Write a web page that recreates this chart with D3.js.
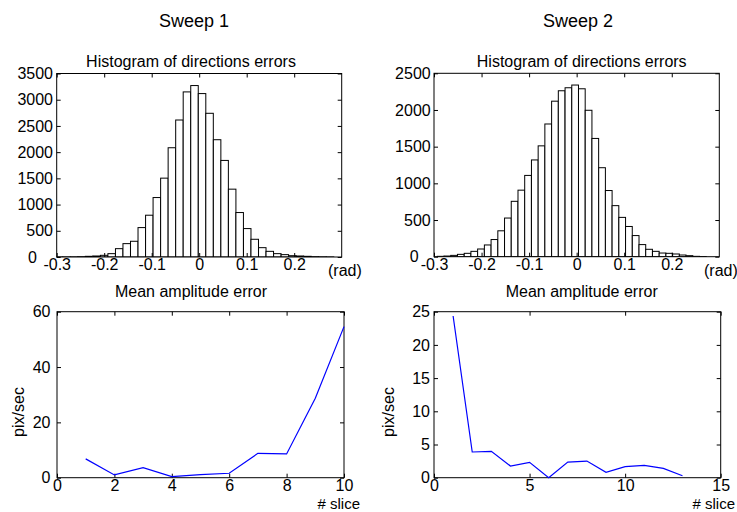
<!DOCTYPE html>
<html>
<head>
<meta charset="utf-8">
<script src="https://cdn.jsdelivr.net/npm/d3@7/dist/d3.min.js"></script>
<style>
  html, body { margin: 0; padding: 0; background: #fff; }
  text { font-family: "Liberation Sans", Arial, Helvetica, sans-serif; fill: #000; }
</style>
</head>
<body>
<svg id="chart" width="737" height="512"></svg>
<script>
// ---------- data ----------
const sweepTitles = ["Sweep 1", "Sweep 2"];
const histTitle = "Histogram of directions errors";
const lineTitle = "Mean amplitude error";

// Sweep 1 histogram (bin centres in rad, counts)
const hist1Centers = [-0.2952,-0.2794,-0.2635,-0.2477,-0.2318,-0.2160,-0.2001,-0.1843,-0.1684,-0.1526,
  -0.1367,-0.1209,-0.1050,-0.0892,-0.0733,-0.0575,-0.0416,-0.0258,-0.0099,0.0060,0.0218,0.0377,0.0535,
  0.0694,0.0852,0.1011,0.1169,0.1328,0.1486,0.1645,0.1803,0.1962,0.2120,0.2279,0.2437,0.2596,0.2754];
const hist1Counts = [1,2,3,6,13,19,32,64,159,255,300,561,797,1134,1504,2084,2613,3149,3270,3117,2741,
  2237,1842,1294,848,542,338,178,108,64,45,25,19,13,6,3,1];

// Sweep 2 histogram
const hist2Centers = [-0.2860,-0.2719,-0.2577,-0.2436,-0.2294,-0.2153,-0.2012,-0.1870,-0.1729,-0.1587,
  -0.1446,-0.1305,-0.1163,-0.1022,-0.0880,-0.0739,-0.0598,-0.0456,-0.0315,-0.0173,-0.0032,0.0109,0.0251,
  0.0392,0.0534,0.0675,0.0816,0.0958,0.1099,0.1241,0.1382,0.1523,0.1665,0.1806,0.1948,0.2089,0.2230,
  0.2372,0.2513,0.2655];
const hist2Counts = [5,9,18,32,46,73,105,160,234,353,527,755,907,1108,1319,1511,1809,2120,2262,2303,2340,
  2289,1996,1612,1213,902,696,536,412,288,165,101,73,50,46,37,23,14,5,2];

const histXTicks = [-0.3,-0.2,-0.1,0,0.1,0.2];
const hist1YTicks = [0,500,1000,1500,2000,2500,3000,3500];
const hist2YTicks = [0,500,1000,1500,2000,2500];

// Mean amplitude error per slice
const amp1Slices = [1,2,3,4,5,6,7,8,9,10];
const amp1Values = [6.8,1.0,3.6,0.4,1.1,1.6,8.8,8.6,28.7,54.6];
const amp2Slices = [1,2,3,4,5,6,7,8,9,10,11,12,13];
const amp2Values = [24.35,3.87,3.97,1.76,2.31,0.0,2.36,2.51,0.8,1.66,1.86,1.4,0.3];

const amp1XTicks = [0,2,4,6,8,10];
const amp1YTicks = [0,20,40,60];
const amp2XTicks = [0,5,10,15];
const amp2YTicks = [0,5,10,15,20,25];

// ---------- drawing ----------
const svg = d3.select("#chart");
svg.append("rect").attr("width",737).attr("height",512).attr("fill","#fff");

const FS = 16, TICK = 4;

function frame(g, x, y, xTicks, yTicks, opts) {
  const [x0,x1] = x.range(), [y1,y0] = y.range();
  const fmt = opts.xfmt || (d => String(d));
  const bx = g.append("g").attr("transform",`translate(0,${y1})`)
    .call(d3.axisBottom(x).tickValues(xTicks).tickSize(-TICK).tickPadding(opts.xpad).tickFormat(fmt));
  const tx = g.append("g").attr("transform",`translate(0,${y0})`)
    .call(d3.axisTop(x).tickValues(xTicks).tickSize(-TICK).tickFormat(""));
  const ly = g.append("g").attr("transform",`translate(${x0},0)`)
    .call(d3.axisLeft(y).tickValues(yTicks).tickSize(-TICK).tickPadding(opts.ypad).tickFormat(d => String(d)));
  const ry = g.append("g").attr("transform",`translate(${x1},0)`)
    .call(d3.axisRight(y).tickValues(yTicks).tickSize(-TICK).tickFormat(""));
  [bx,tx,ly,ry].forEach(a => {
    a.select(".domain").remove();
    a.selectAll(".tick line").attr("stroke","#000").attr("stroke-width",1);
    a.selectAll("text").attr("font-size",FS).attr("font-family",'"Liberation Sans", Arial, sans-serif').attr("fill","#000");
  });
  if (opts.zeroShift) {
    ly.selectAll(".tick").filter(d => d === 0).select("text")
      .attr("x", -opts.ypad - opts.zeroShift);
  }
  g.append("rect").attr("x",x0).attr("y",y0).attr("width",x1-x0).attr("height",y1-y0)
    .attr("fill","none").attr("stroke","#000").attr("stroke-width",1);
}

function histogram(box, centers, counts, yTicks, ymax, opts) {
  const g = svg.append("g");
  const x = d3.scaleLinear().domain([-0.3,0.3]).range([box.l, box.r]);
  const y = d3.scaleLinear().domain([0,ymax]).range([box.b, box.t]);
  const w = centers[1]-centers[0];
  g.append("clipPath").attr("id","clip"+opts.id).append("rect")
    .attr("x",box.l).attr("y",box.t).attr("width",box.r-box.l).attr("height",box.b-box.t);
  g.append("g").attr("clip-path",`url(#clip${opts.id})`).selectAll("rect")
    .data(centers.map((c,i)=>({c, n:counts[i]}))).join("rect")
    .attr("x", d => x(d.c - w/2)).attr("width", d => x(d.c + w/2) - x(d.c - w/2))
    .attr("y", d => y(d.n)).attr("height", d => y(0) - y(d.n))
    .attr("fill","#fff").attr("stroke","#000").attr("stroke-width",1);
  frame(g, x, y, histXTicks, yTicks, {xpad: 1.5, ypad: opts.ypad, zeroShift: opts.zeroShift, xfmt: d => String(d)});
  g.append("text").attr("x",opts.titleX).attr("y",67).attr("text-anchor","middle").attr("font-size",FS).text(histTitle);
  g.append("text").attr("x",opts.radX).attr("y",276).attr("font-size",FS).text("(rad)");
}

function lineplot(box, xs, vs, xdom, ydom, xTicks, yTicks, opts) {
  const g = svg.append("g");
  const x = d3.scaleLinear().domain(xdom).range([box.l, box.r]);
  const y = d3.scaleLinear().domain(ydom).range([box.b, box.t]);
  frame(g, x, y, xTicks, yTicks, {xpad: 2.3, ypad: opts.ypad});
  g.append("path").datum(xs.map((s,i)=>[s, vs[i]]))
    .attr("d", d3.line().x(d => x(d[0])).y(d => y(d[1])))
    .attr("fill","none").attr("stroke","#0000ff").attr("stroke-width",1.2);
  g.append("text").attr("x",opts.titleX).attr("y",297).attr("text-anchor","middle").attr("font-size",FS).text(lineTitle);
  g.append("text").attr("x",opts.sliceX).attr("y",508.5).attr("font-size",15).text("# slice");
  g.append("text").attr("transform",`translate(${opts.ylabX},412) rotate(-90)`)
    .attr("text-anchor","middle").attr("font-size",FS).text("pix/sec");
}

// Sweep titles
svg.append("text").attr("x",194).attr("y",27).attr("text-anchor","middle").attr("font-size",18).text(sweepTitles[0]);
svg.append("text").attr("x",578).attr("y",27).attr("text-anchor","middle").attr("font-size",18).text(sweepTitles[1]);

histogram({l:56.7, r:341.7, t:73.5, b:257}, hist1Centers, hist1Counts, hist1YTicks, 3500,
  {id:1, ypad:3.7, zeroShift:16, titleX:191, radX:328});
histogram({l:434, r:719.3, t:73.3, b:256.7}, hist2Centers, hist2Counts, hist2YTicks, 2500,
  {id:2, ypad:3.3, zeroShift:12, titleX:581.7, radX:704});

lineplot({l:57, r:344, t:311.7, b:477.7}, amp1Slices, amp1Values, [0,10], [0,60], amp1XTicks, amp1YTicks,
  {ypad:6.5, titleX:191, sliceX:317.5, ylabX:24});
lineplot({l:434, r:720.7, t:311.7, b:477.7}, amp2Slices, amp2Values, [0,15], [0,25], amp2XTicks, amp2YTicks,
  {ypad:4, titleX:581.7, sliceX:692.5, ylabX:394});
</script>
</body>
</html>
